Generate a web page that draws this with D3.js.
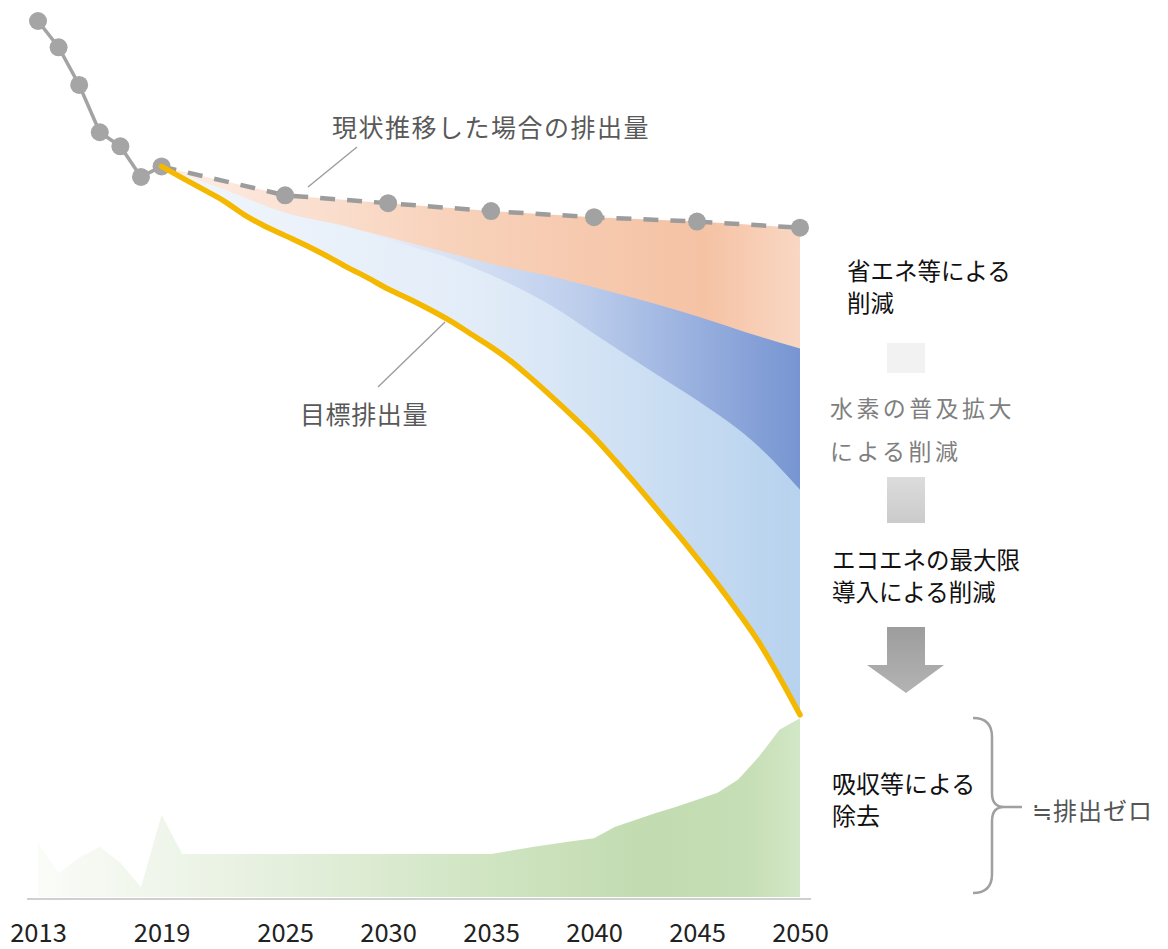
<!DOCTYPE html>
<html>
<head>
<meta charset="utf-8">
<script src="https://cdn.jsdelivr.net/npm/d3@7"></script>
<style>
  html, body { margin: 0; padding: 0; background: #fff; }
  svg { display: block; }
  text { font-family: "Noto Sans CJK JP", "Noto Sans", sans-serif; }
</style>
</head>
<body>
<svg id="chart" width="1168" height="949"></svg>
<script>
// ---------------- data (emission index, 2013 = 100) ----------------
const histYears  = [2013, 2014, 2015, 2016, 2017, 2018, 2019];
const histValues = [100, 97.0, 92.7, 87.3, 85.7, 82.2, 83.4];

const bauYears  = [2019, 2025, 2030, 2035, 2040, 2045, 2050];
const bauValues = [83.4, 80.1, 79.2, 78.3, 77.6, 77.1, 76.4];

const bandYears     = [2019, 2022, 2025, 2028, 2030, 2033, 2035, 2038, 2040, 2043, 2045, 2048, 2050];
const afterSaving   = [83.4, 80.8, 78.1, 76.5, 75.3, 73.5, 72.3, 70.8, 69.6, 67.7, 66.3, 64.0, 62.6];
const afterHydrogen = [83.4, 80.8, 78.1, 76.5, 75.0, 72.9, 71.0, 67.4, 64.3, 59.7, 56.7, 51.4, 46.5];

const targetYears  = [2019, 2020, 2021, 2022, 2023, 2024, 2025, 2026, 2027, 2028, 2029, 2030, 2031, 2032, 2033, 2034,
                      2035, 2036, 2037, 2038, 2039, 2040, 2041, 2042, 2043, 2044, 2045, 2046, 2047, 2048, 2049, 2050];
const targetValues = [83.4, 82.1, 80.8, 79.5, 77.9, 76.6, 75.5, 74.4, 73.2, 71.9, 70.7, 69.4, 68.3, 67.1, 65.8, 64.3,
                      62.8, 61.1, 59.1, 57.0, 54.8, 52.5, 49.9, 47.2, 44.4, 41.6, 38.7, 35.7, 32.5, 29.1, 25.1, 20.8];

const sinkYears  = [2013, 2014, 2015, 2016, 2017, 2018, 2019, 2020, 2021, 2022, 2023, 2024, 2025, 2026, 2027, 2028, 2029,
                    2030, 2031, 2032, 2033, 2034, 2035, 2036, 2037, 2038, 2039, 2040, 2041, 2042, 2043, 2044, 2045,
                    2046, 2047, 2048, 2049, 2050];
const sinkValues = [6.2, 2.7, 4.5, 5.7, 3.9, 1.1, 9.4, 4.9, 4.9, 4.9, 4.9, 4.9, 4.9, 4.9, 4.9, 4.9, 4.9,
                    4.9, 4.9, 4.9, 4.9, 4.9, 4.9, 5.3, 5.7, 6.05, 6.4, 6.7, 8.0, 8.8, 9.6, 10.3, 11.1,
                    11.9, 13.4, 16.0, 19.1, 20.4];

const tickYears = [2013, 2019, 2025, 2030, 2035, 2040, 2045, 2050];

// ---------------- scales ----------------
const svg = d3.select("#chart");
const x = d3.scaleLinear().domain([2013, 2050]).range([38, 800]);
const y = d3.scaleLinear().domain([0, 100]).range([897, 21]);

const zip = (a, b) => a.map((v, i) => [v, b[i]]);
const hist   = zip(histYears, histValues);
const bau    = zip(bauYears, bauValues);
const saving = zip(bandYears, afterSaving);
const hydro  = zip(bandYears, afterHydrogen);
const target = zip(targetYears, targetValues);
const sink   = zip(sinkYears, sinkValues);

// ---------------- gradients ----------------
const defs = svg.append("defs");
function hGrad(id, x0, x1, stops) {
  const g = defs.append("linearGradient").attr("id", id)
    .attr("gradientUnits", "userSpaceOnUse")
    .attr("x1", x0).attr("x2", x1).attr("y1", 0).attr("y2", 0);
  stops.forEach(s => g.append("stop").attr("offset", s[0]).attr("stop-color", s[1]));
}
hGrad("gOrange", x(2019), x(2050), [[0, "#fdeee6"], [0.45, "#f8d2bb"], [0.85, "#f5c2a4"], [1, "#f9d7c3"]]);
hGrad("gDark",   x(2029), x(2050), [[0, "#e9eff9"], [0.5, "#bccdec"], [1, "#7795d2"]]);
hGrad("gLight",  x(2019), x(2050), [[0, "#f1f6fc"], [0.5, "#e2ecf8"], [1, "#b7d2ee"]]);
hGrad("gGreen",  x(2013), x(2050), [[0, "#fafcf8"], [0.3, "#e6f0df"], [0.6, "#cfe4c1"], [0.8, "#c2dbb0"], [0.93, "#c6deb5"], [1, "#d2e7c6"]]);
const vg = defs.append("linearGradient").attr("id", "gArrow").attr("x1", 0).attr("x2", 0).attr("y1", 0).attr("y2", 1);
vg.append("stop").attr("offset", 0).attr("stop-color", "#9d9d9d");
vg.append("stop").attr("offset", 1).attr("stop-color", "#b3b3b3");
const vg2 = defs.append("linearGradient").attr("id", "gSq").attr("x1", 0).attr("x2", 0).attr("y1", 0).attr("y2", 1);
vg2.append("stop").attr("offset", 0).attr("stop-color", "#dcdcdc");
vg2.append("stop").attr("offset", 1).attr("stop-color", "#cbcbcb");

// ---------------- helpers ----------------
const lineLin  = d3.line().x(d => x(d[0])).y(d => y(d[1])).curve(d3.curveLinear);
const lineMono = d3.line().x(d => x(d[0])).y(d => y(d[1])).curve(d3.curveMonotoneX);
function band(upper, upperGen, lower, lowerGen) {
  const p1 = upperGen(upper);
  const p2 = lowerGen(lower.slice().reverse());
  return p1 + "L" + p2.slice(1) + "Z";
}

// ---------------- green removal area ----------------
const sinkArea = d3.area().x(d => x(d[0])).y0(y(0)).y1(d => y(d[1])).curve(d3.curveLinear);
svg.append("path").attr("d", sinkArea(sink)).attr("fill", "url(#gGreen)");

// baseline
svg.append("line").attr("x1", x(2013) - 11).attr("x2", x(2050) + 11)
  .attr("y1", y(0) + 2).attr("y2", y(0) + 2)
  .attr("stroke", "#d0d0d0").attr("stroke-width", 2);

// ---------------- reduction bands ----------------
svg.append("path").attr("d", band(bau, lineLin, target, lineMono)).attr("fill", "url(#gOrange)");
svg.append("path").attr("d", band(saving, lineMono, target, lineMono)).attr("fill", "url(#gDark)");
svg.append("path").attr("d", band(hydro, lineMono, target, lineMono)).attr("fill", "url(#gLight)");

// ---------------- lines ----------------
svg.append("path").attr("d", lineLin(hist)).attr("fill", "none")
  .attr("stroke", "#a3a3a3").attr("stroke-width", 3.5);
svg.append("path").attr("d", lineLin(bau)).attr("fill", "none")
  .attr("stroke", "#9c9c9c").attr("stroke-width", 4.5).attr("stroke-dasharray", "15 12");

svg.selectAll("circle.hist").data(hist).join("circle").attr("class", "hist")
  .attr("cx", d => x(d[0])).attr("cy", d => y(d[1])).attr("r", 9).attr("fill", "#a5a5a5");
svg.selectAll("circle.bau").data(bau.slice(1)).join("circle").attr("class", "bau")
  .attr("cx", d => x(d[0])).attr("cy", d => y(d[1])).attr("r", 9).attr("fill", "#a2a2a2");

svg.append("path").attr("d", lineMono(target)).attr("fill", "none")
  .attr("stroke", "#f5b800").attr("stroke-width", 5.5).attr("stroke-linecap", "round");

// ---------------- axis ----------------
const axis = d3.axisBottom(x).tickValues(tickYears).tickFormat(d3.format("d")).tickSize(0);
const ax = svg.append("g").attr("transform", `translate(0,${y(0)})`).call(axis);
ax.select(".domain").remove();
ax.selectAll("text").attr("y", 45).attr("dy", 0)
  .attr("font-family", "'Open Sans', 'Noto Sans', sans-serif")
  .attr("font-weight", 400)
  .attr("font-size", 25.5).attr("fill", "#222");

// ---------------- annotations ----------------
function label(txt, tx, ty, size, color, spacing) {
  svg.append("text").attr("x", tx).attr("y", ty).text(txt)
    .attr("font-size", size).attr("fill", color)
    .attr("letter-spacing", spacing || 0);
}
label("現状推移した場合の排出量", 332, 137, 25, "#595959", 1.5);
svg.append("line").attr("x1", 357).attr("y1", 147).attr("x2", 308).attr("y2", 187)
  .attr("stroke", "#9a9a9a").attr("stroke-width", 1.3);

label("目標排出量", 300, 424, 25, "#595959", 0.6);
svg.append("line").attr("x1", 445).attr("y1", 322).attr("x2", 378).attr("y2", 387)
  .attr("stroke", "#9a9a9a").attr("stroke-width", 1.3);

label("省エネ等による", 847, 280, 23.5, "#111", 0);
label("削減", 847, 312, 23.5, "#111", 0);

svg.append("rect").attr("x", 887).attr("y", 343).attr("width", 38).attr("height", 30).attr("fill", "#f2f2f2");

label("水素の普及拡大", 830, 417, 23, "#7f7f7f", 3.4);
label("による削減", 830, 460, 23, "#7f7f7f", 3.4);

svg.append("rect").attr("x", 887).attr("y", 477).attr("width", 38).attr("height", 46).attr("fill", "url(#gSq)");

label("エコエネの最大限", 832, 569, 23.5, "#111", 0);
label("導入による削減", 832, 601, 23.5, "#111", 0);

svg.append("path")
  .attr("d", "M887,627 L925,627 L925,665 L944,665 L906,693 L867,665 L887,665 Z")
  .attr("fill", "url(#gArrow)");

label("吸収等による", 832, 793, 24, "#111", 0);
label("除去", 832, 825, 24, "#111", 0);

svg.append("path")
  .attr("d", "M973,718 Q992,718 992,737 L992,793 Q992,807 1004,807 L1022,807 M1004,807 Q992,807 992,821 L992,874 Q992,893 973,893")
  .attr("fill", "none").attr("stroke", "#a0a0a0").attr("stroke-width", 2.5);

label("≒排出ゼロ", 1032, 820, 24, "#555", 1);
</script>
</body>
</html>
